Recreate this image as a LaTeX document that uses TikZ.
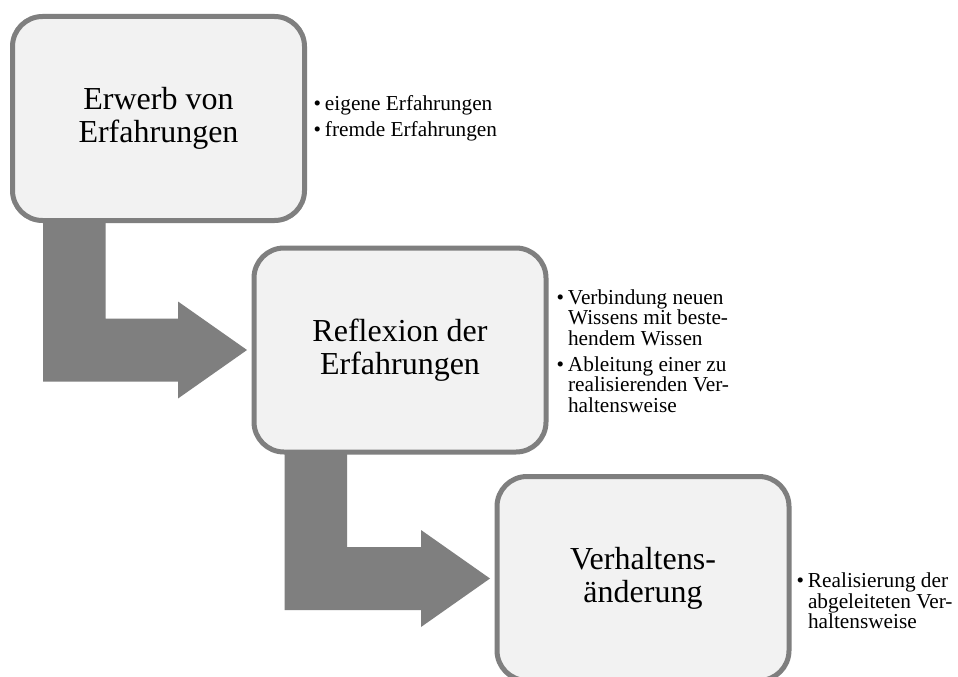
\documentclass[tikz,border=0pt]{standalone}
\usepackage{fontspec}
\setmainfont{Liberation Serif}
\usetikzlibrary{calc,backgrounds}

\definecolor{boxfill}{HTML}{F2F2F2}
\definecolor{boxline}{HTML}{7F7F7F}
\definecolor{flowfill}{HTML}{7F7F7F}

% bullet set in the left margin of a line
\newcommand{\itembullet}{\llap{•\hspace{4pt}}}

% bent block arrow from the lower part of #1 to the left side of #2
\newcommand{\bentflow}[2]{%
  \fill[flowfill] let \p1 = (#1.west), \p2 = (#1.south), \p3 = (#2.west) in
    (\x1+30.5pt, \y2+10pt) -- (\x1+93pt, \y2+10pt) -- (\x1+93pt, \y3+31.5pt)
    -- (\x3-76pt, \y3+31.5pt) -- (\x3-76pt, \y3+48.5pt) -- (\x3-7pt, \y3)
    -- (\x3-76pt, \y3-48.5pt) -- (\x3-76pt, \y3-31.5pt)
    -- (\x1+30.5pt, \y3-31.5pt) -- cycle;}

\tikzset{
  stage/.style={draw=boxline, fill=boxfill, line width=5pt, rounded corners=30pt,
    minimum width=292pt, minimum height=204pt, inner sep=0pt, outer sep=0pt,
    align=center, font=\fontsize{32}{32.5}\selectfont},
  notes/.style={anchor=west, inner sep=0pt, outer sep=0pt, align=left,
    font=\fontsize{21.3}{20.5}\selectfont}
}

\begin{document}
\begin{tikzpicture}[x=1pt, y=-1pt]
  \useasboundingbox (0,0) rectangle (958,677);

  \node[stage] (b1) at (158.5,118.5) {Erwerb von\\Erfahrungen};
  \node[stage] (b2) at (400,350) {Reflexion der\\Erfahrungen};
  \node[stage] (b3) at (643,578.5) {Verhaltens-\\änderung};

  \node[notes] (n1) at (325,118.5)
    {\itembullet eigene Erfahrungen\\[5.5pt]\itembullet fremde Erfahrungen};
  \node[notes] (n2) at (568,351)
    {\itembullet Verbindung neuen\\Wissens mit beste-\\hendem Wissen\\[5.5pt]%
     \itembullet Ableitung einer zu\\realisierenden Ver-\\haltensweise};
  \node[notes] (n3) at (808,601)
    {\itembullet Realisierung der\\abgeleiteten Ver-\\haltensweise};

  \begin{scope}[on background layer]
    \fill[white] (0,0) rectangle (958,677);
    \bentflow{b1}{b2}
    \bentflow{b2}{b3}
  \end{scope}
\end{tikzpicture}
\end{document}
